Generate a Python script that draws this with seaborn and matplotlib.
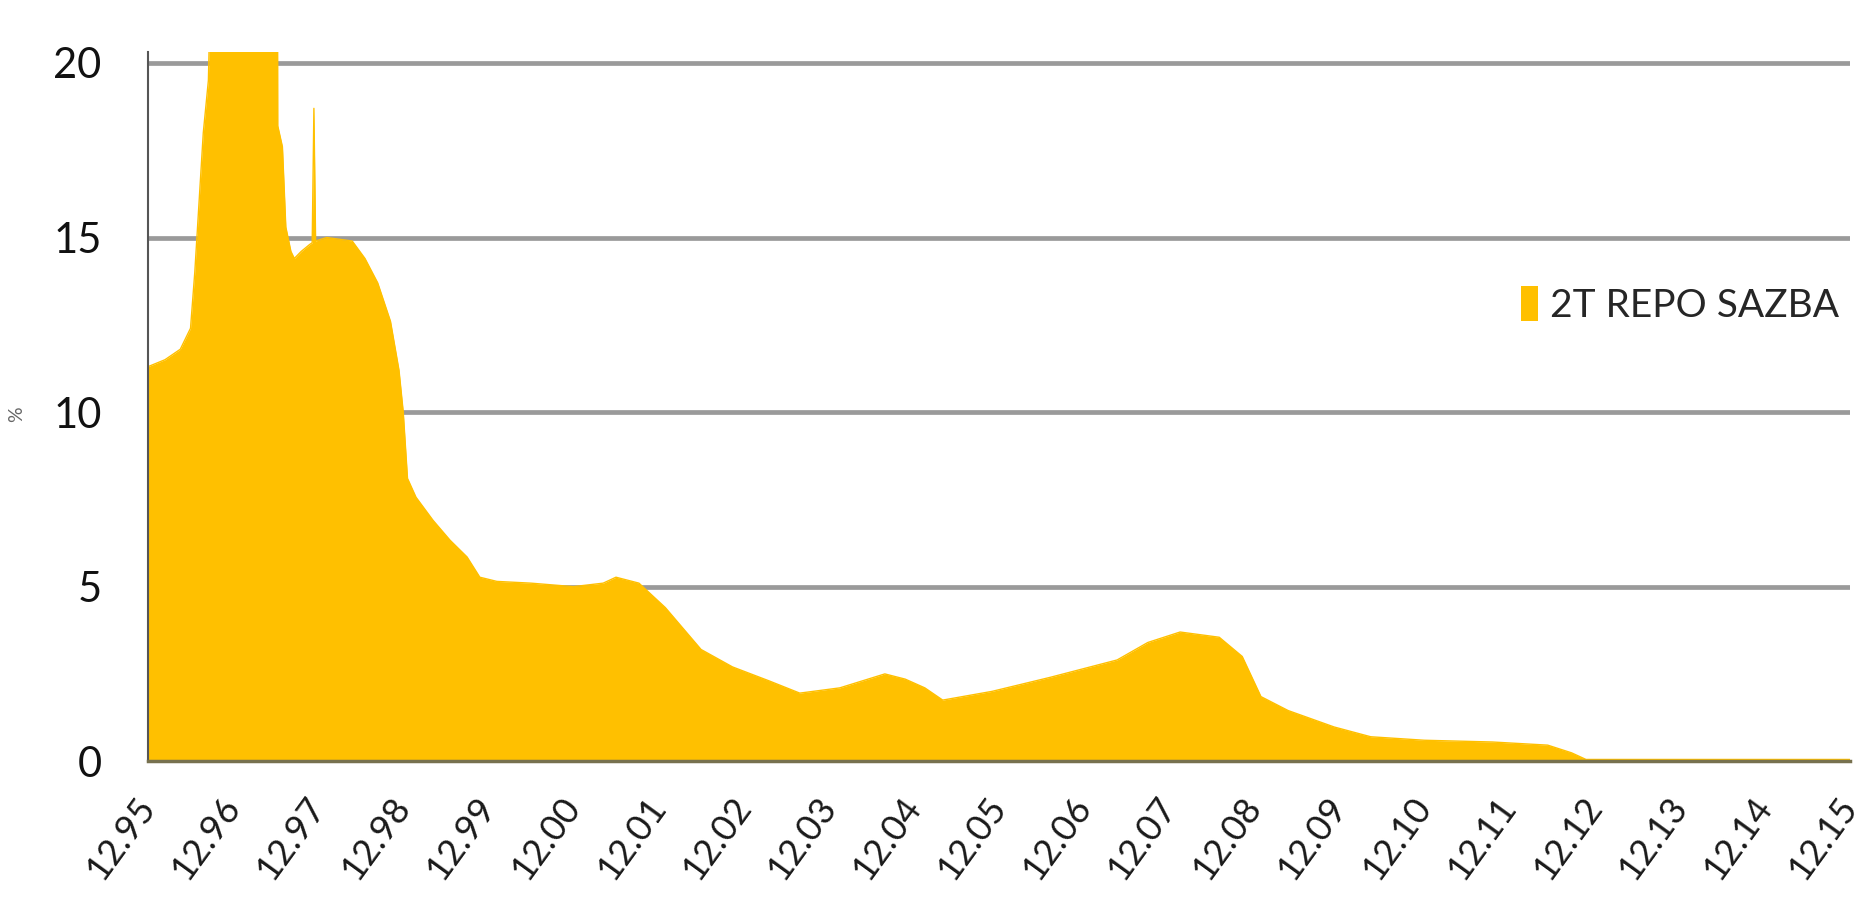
import matplotlib
matplotlib.use("Agg")
import matplotlib.pyplot as plt
import pandas as pd
import numpy as np
import seaborn as sns

# years after 12/1995 (0 = 12.95, 20 = 12.15)
t_years = [0.0, 0.2, 0.38, 0.5, 0.55, 0.6, 0.65, 0.71, 0.76, 1.52, 1.525, 1.58, 1.62,
           1.68, 1.72, 1.8, 1.9, 1.93, 1.95, 1.97, 2.1, 2.4, 2.55, 2.7, 2.85, 2.95,
           3.0, 3.05, 3.15, 3.35, 3.55, 3.75, 3.9, 4.1, 4.5, 5.0, 5.35, 5.5, 5.77,
           6.08, 6.5, 6.87, 7.3, 7.66, 8.13, 8.66, 8.9, 9.13, 9.34, 9.92, 10.6,
           11.39, 11.75, 12.13, 12.59, 12.86, 13.08, 13.4, 13.94, 14.37, 15.0, 15.8,
           16.45, 16.73, 16.9, 20.0]
repo_rate = [11.3, 11.5, 11.8, 12.4, 14.0, 16.0, 18.0, 19.5, 25.0, 25.0, 18.2, 17.6, 15.3,
             14.6, 14.4, 14.6, 14.8, 14.85, 18.7, 14.9, 15.0, 14.9, 14.4, 13.7, 12.6, 11.2,
             10.0, 8.1, 7.56, 6.9, 6.33, 5.85, 5.27, 5.15, 5.1, 5.0, 5.1, 5.27, 5.1,
             4.4, 3.2, 2.7, 2.3, 1.95, 2.1, 2.5, 2.35, 2.1, 1.75, 2.0, 2.4,
             2.9, 3.4, 3.7, 3.55, 3.0, 1.85, 1.45, 0.98, 0.7, 0.6, 0.55,
             0.46, 0.24, 0.05, 0.05]
tick_labels = ['12.95', '12.96', '12.97', '12.98', '12.99', '12.00', '12.01', '12.02',
               '12.03', '12.04', '12.05', '12.06', '12.07', '12.08', '12.09', '12.10',
               '12.11', '12.12', '12.13', '12.14', '12.15']
y_ticks = [0, 5, 10, 15, 20]
series_name = '2T REPO SAZBA'

df = pd.DataFrame({'t': t_years, 'rate': repo_rate})

sns.set_style('white')
plt.rcParams['font.family'] = ['Lato', 'DejaVu Sans']

fig = plt.figure(figsize=(18.66, 9.16), dpi=100)
ax = fig.add_axes([0.0793, 0.169, 0.912, 0.7737])

yellow = '#FFC000'
sns.lineplot(data=df, x='t', y='rate', color=yellow, linewidth=1, ax=ax)
ax.fill_between(df['t'], df['rate'], 0, color=yellow, linewidth=0, label=series_name)

ax.set_xlim(0, 20)
ax.set_ylim(0, 20.3)
ax.set_xticks(range(len(tick_labels)))
ax.set_xticklabels(tick_labels, rotation=54, ha='right', va='center',
                   rotation_mode='anchor', fontsize=26, color='#1a1a1a')
ax.set_yticks(y_ticks)
ax.set_yticklabels([str(v) for v in y_ticks], fontsize=30, color='#111111')

ax.set_axisbelow(True)
ax.yaxis.grid(True, color='#9a9a9a', linewidth=3.4)
ax.xaxis.grid(False)
ax.tick_params(axis='y', length=11.5, width=3.4, color='#9a9a9a', direction='out', pad=22)
ax.tick_params(axis='x', length=14.4, width=1.5, color='#666666', direction='out', pad=14)

for side in ['top', 'right']:
    ax.spines[side].set_visible(False)
ax.spines['left'].set_color('#555555')
ax.spines['left'].set_linewidth(1.5)
ax.spines['bottom'].set_color('#77714f')
ax.spines['bottom'].set_linewidth(2.5)

ax.set_xlabel('')
ax.set_ylabel('%', fontsize=14, color='#666666')
ax.yaxis.set_label_coords(-0.072, 0.49)

ax.legend(loc='center left', bbox_to_anchor=(0.8045, 0.667), bbox_transform=fig.transFigure,
          frameon=False, fontsize=28, handlelength=0.45, handleheight=1.0,
          handletextpad=0.3, borderpad=0)

plt.savefig('out.png', dpi=100)
plt.close()
